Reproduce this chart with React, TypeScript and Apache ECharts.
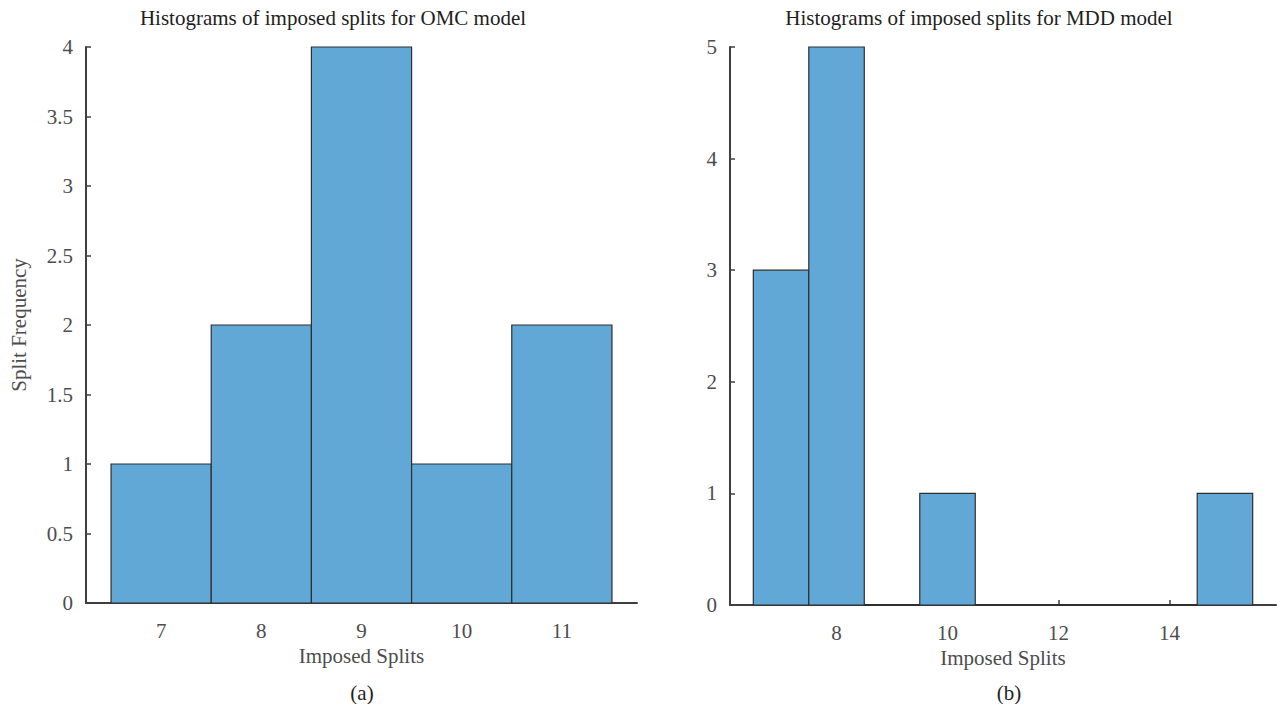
import React, { useEffect, useRef } from "react";
import * as echarts from "echarts";

// Left panel (OMC): bin centres and counts
const omcBins = [7, 8, 9, 10, 11];
const omcCounts = [1, 2, 4, 1, 2];
const omcXTicks = [7, 8, 9, 10, 11];

// Right panel (MDD): bin centres and counts
const mddBins = [7, 8, 9, 10, 11, 12, 13, 14, 15];
const mddCounts = [3, 5, 0, 1, 0, 0, 0, 0, 1];
const mddXTicks = [8, 10, 12, 14];

const titles = [
  "Histograms of imposed splits for OMC model",
  "Histograms of imposed splits for MDD model",
];
const captions = ["(a)", "(b)"];

const FONT = "'Liberation Serif', 'Times New Roman', serif";
const BAR = "#62a8d7";
const EDGE = "#2e2e2e";
const AXIS = "#3f3f3f";
const LABEL = "#4d4d4d";
const FS = 21;

function histRender(params: any, api: any) {
  const x = api.value(0);
  const y = api.value(1);
  const p0 = api.coord([x - 0.5, y]);
  const p1 = api.coord([x + 0.5, 0]);
  return {
    type: "rect",
    shape: { x: p0[0], y: p0[1], width: p1[0] - p0[0], height: p1[1] - p0[1] },
    style: { fill: BAR, stroke: EDGE, lineWidth: y === 0 ? 2 : 1.2 },
  };
}

export default function App() {
  const ref = useRef<HTMLDivElement>(null);
  useEffect(() => {
    if (!ref.current) return;
    const chart = echarts.init(ref.current, null, { renderer: "svg" });
    const axisCommon = {
      axisLine: { show: true, lineStyle: { color: AXIS, width: 2 } },
      axisTick: { show: true, inside: true, length: 5, lineStyle: { color: AXIS, width: 1.5 } },
      splitLine: { show: false },
      axisLabel: { color: LABEL, fontFamily: FONT, fontSize: FS },
      nameTextStyle: { color: LABEL, fontFamily: FONT, fontSize: FS },
    };
    const titleStyle = { fontFamily: FONT, fontSize: FS, fontWeight: "normal", color: "#1e1e1e" };
    chart.setOption({
      animation: false,
      backgroundColor: "#ffffff",
      title: [
        { text: titles[0], left: 328, top: 2, textAlign: "center", textStyle: titleStyle },
        { text: titles[1], left: 974, top: 2, textAlign: "center", textStyle: titleStyle },
        { text: captions[0], left: 357, top: 677, textAlign: "center", textStyle: titleStyle },
        { text: captions[1], left: 1004, top: 677, textAlign: "center", textStyle: titleStyle },
      ],
      grid: [
        { left: 86, top: 47, width: 551, height: 556 },
        { left: 730, top: 47, width: 546, height: 558 },
      ],
      xAxis: [
        {
          ...axisCommon, gridIndex: 0, type: "value", min: 6.25, max: 11.75,
          name: "Imposed Splits", nameLocation: "middle", nameGap: 40,
          axisTick: { ...axisCommon.axisTick, customValues: omcXTicks },
          axisLabel: { ...axisCommon.axisLabel, customValues: omcXTicks, margin: 17 },
        },
        {
          ...axisCommon, gridIndex: 1, type: "value", min: 6.08, max: 15.92,
          name: "Imposed Splits", nameLocation: "middle", nameGap: 38,
          axisTick: { ...axisCommon.axisTick, customValues: mddXTicks },
          axisLabel: { ...axisCommon.axisLabel, customValues: mddXTicks, margin: 17 },
        },
      ],
      yAxis: [
        {
          ...axisCommon, gridIndex: 0, type: "value", min: 0, max: 4, interval: 0.5,
          name: "Split Frequency", nameLocation: "middle", nameGap: 57,
          axisLabel: { ...axisCommon.axisLabel, margin: 13 },
        },
        {
          ...axisCommon, gridIndex: 1, type: "value", min: 0, max: 5, interval: 1,
          axisLabel: { ...axisCommon.axisLabel, margin: 13 },
        },
      ],
      series: [
        {
          type: "custom", xAxisIndex: 0, yAxisIndex: 0,
          renderItem: histRender,
          data: omcBins.map((b, i) => [b, omcCounts[i]]),
        },
        {
          type: "custom", xAxisIndex: 1, yAxisIndex: 1,
          renderItem: histRender,
          data: mddBins.map((b, i) => [b, mddCounts[i]]),
        },
      ],
    });
    return () => chart.dispose();
  }, []);
  return (
    <div
      ref={ref}
      style={{ position: "absolute", left: 0, top: 0, width: 1277, height: 704 }}
    />
  );
}
